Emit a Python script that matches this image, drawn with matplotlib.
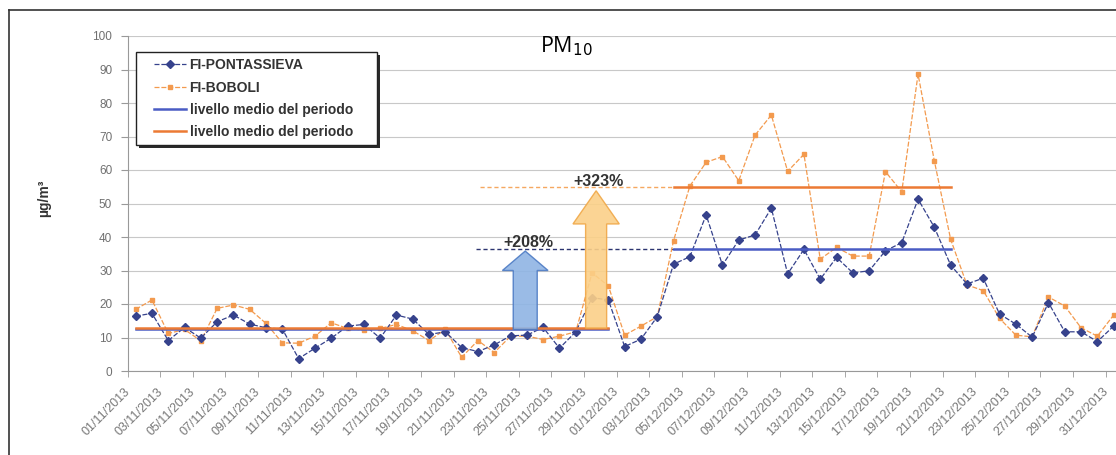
import matplotlib
matplotlib.use("Agg")
import matplotlib.pyplot as plt
from matplotlib.patches import FancyArrow, Rectangle
from matplotlib.lines import Line2D
import pandas as pd

plt.rcParams['font.family'] = ['Liberation Sans', 'DejaVu Sans']

dates = [d.strftime('%d/%m/%Y') for d in pd.date_range('2013-11-01', '2013-12-31')]

pontassieva = [16.4, 17.2, 9.1, 13.0, 9.8, 14.7, 16.7, 14.0, 12.9, 12.5,
               3.7, 6.8, 9.8, 13.4, 13.9, 9.8, 16.7, 15.5, 10.9, 11.7,
               7.0, 5.8, 7.8, 10.5, 10.7, 13.0, 6.8, 11.7, 21.9, 21.2,
               7.3, 9.5, 16.2, 31.9, 34.1, 46.6, 31.6, 39.1, 40.6, 48.6,
               29.0, 36.3, 27.4, 33.9, 29.3, 29.9, 35.9, 38.3, 51.3, 42.9,
               31.6, 26.0, 27.7, 17.0, 14.0, 10.1, 20.4, 11.7, 11.7, 8.8, 13.4]
boboli = [18.4, 21.2, 11.2, 12.4, 9.0, 18.7, 19.7, 18.4, 14.2, 8.4,
          8.3, 10.4, 14.4, 12.7, 12.2, 12.7, 13.9, 12.0, 9.1, 12.4,
          4.1, 9.1, 5.5, 10.4, 10.4, 9.4, 10.4, 11.7, 29.3, 25.4,
          10.7, 13.4, 16.2, 38.9, 55.2, 62.3, 64.0, 56.8, 70.4, 76.4,
          59.6, 64.7, 33.4, 36.9, 34.3, 34.3, 59.5, 53.5, 88.6, 62.7,
          39.3, 25.7, 24.0, 15.7, 10.7, 10.2, 22.1, 19.4, 12.9, 10.4, 16.7]

# mean levels: (first index, last index, value)
mean_pont = [(0, 29, 12.4), (33, 50, 36.3)]
mean_bob = [(0, 29, 12.8), (33, 50, 55.0)]

# annotation arrows: (center, base, tip, head base, body width, head width)
arrow_blue = (23.9, 12.4, 35.8, 30.0, 1.47, 2.8)
arrow_orange = (28.25, 12.8, 53.8, 43.9, 1.29, 2.84)
pct_labels = ['+208%', '+323%']

C_BLUE = '#36428c'
C_ORANGE = '#f39a4e'
C_BLUE_MEAN = '#4a5cc4'
C_ORANGE_MEAN = '#ec7a34'

W, H = 1116, 455
fig = plt.figure(figsize=(W / 100, H / 100), dpi=100)
ax = fig.add_axes([127.5 / W, (H - 371) / H, 61 * 16.3 / W, 335 / H])

x = list(range(len(dates)))
ax.plot(x, pontassieva, color=C_BLUE, lw=0.9, ls=(0, (4, 1.5)), marker='D', ms=4.2,
        mfc=C_BLUE, mec=C_BLUE, label='FI-PONTASSIEVA', zorder=4)
ax.plot(x, boboli, color=C_ORANGE, lw=0.9, ls=(0, (4, 1.5)), marker='s', ms=3,
        mfc=C_ORANGE, mec=C_ORANGE, label='FI-BOBOLI', zorder=3)

for k, (a, b, v) in enumerate(mean_pont):
    ax.plot([a, b], [v, v], color=C_BLUE_MEAN, lw=1.8, zorder=5,
            label='livello medio del periodo' if k == 0 else None)
for k, (a, b, v) in enumerate(mean_bob):
    ax.plot([a, b], [v, v], color=C_ORANGE_MEAN, lw=1.8, zorder=5,
            label='livello medio del periodo' if k == 0 else None)

# dashed reference lines
ax.plot([20.9, 33], [mean_pont[1][2], mean_pont[1][2]], color='#2c3470', lw=1.0,
        ls=(0, (3, 2)), zorder=2)
ax.plot([21.1, 33], [mean_bob[1][2], mean_bob[1][2]], color='#f5a860', lw=1.0,
        ls=(0, (3, 2)), zorder=2)

for (cx, base, tip, hb, bw, hw), fc, ec in [(arrow_blue, '#8fb4e4', '#4d7bc4'),
                                            (arrow_orange, '#fbd088', '#f0a848')]:
    ar = FancyArrow(cx, base, 0, tip - base, width=bw, head_width=hw,
                    head_length=tip - hb, length_includes_head=True,
                    facecolor=fc, edgecolor=ec, lw=1.0, alpha=0.9, zorder=6)
    ax.add_patch(ar)

ax.text(24.1, 38.3, pct_labels[0], ha='center', va='center', fontsize=11.5,
        fontweight='bold', color='#333333', zorder=7)
ax.text(28.4, 56.5, pct_labels[1], ha='center', va='center', fontsize=11.5,
        fontweight='bold', color='#333333', zorder=7)

ax.set_xlim(-0.5, len(dates) - 0.5)
ax.set_ylim(0, 100)
ax.set_yticks(range(0, 101, 10))
ax.yaxis.grid(True, color='#c8c8c8', lw=0.8)
ax.set_axisbelow(True)
# labels sit slightly left of their category, as in the Excel original
ax.set_xticks([i - 0.45 for i in x[::2]])
ax.set_xticklabels(dates[::2], rotation=45, ha='right', va='center',
                   rotation_mode='anchor', fontsize=9, color='#787878')
ax.set_xticks([i - 0.5 for i in range(0, len(dates) + 1, 2)], minor=True)
ax.tick_params(axis='x', which='major', length=0, pad=13.5)
ax.tick_params(axis='x', which='minor', length=4, color='#999999')
ax.tick_params(axis='y', length=5, color='#999999', labelsize=8.5,
               labelcolor='#707070', pad=6)
for s in ['top', 'right']:
    ax.spines[s].set_visible(False)
ax.spines['left'].set_color('#999999')
ax.spines['bottom'].set_color('#999999')

ax.set_ylabel('µg/m³', fontsize=10, fontweight='bold', color='#333333')
ax.yaxis.set_label_coords(-0.077, 0.515)

# legend box with shadow (drawn in figure pixels)
lx0, ly0, lx1, ly1 = 136, 52, 377, 145
fig.add_artist(Rectangle(((lx0 + 3) / W, 1 - (ly1 + 3) / H), (lx1 - lx0) / W,
                         (ly1 - ly0) / H, transform=fig.transFigure,
                         facecolor='#2a2a2a', edgecolor='none', zorder=8))
fig.add_artist(Rectangle((lx0 / W, 1 - ly1 / H), (lx1 - lx0) / W, (ly1 - ly0) / H,
                         transform=fig.transFigure, facecolor='white',
                         edgecolor='#222222', lw=1.0, zorder=9))
leg = ax.legend(loc='upper left', bbox_to_anchor=(150 / W, 1 - 54 / H),
                bbox_transform=fig.transFigure, frameon=False,
                prop={'size': 10, 'weight': 'bold'}, labelspacing=0.6,
                handlelength=2.3, handletextpad=0.25, borderpad=0.3,
                borderaxespad=0)
for t in leg.get_texts():
    t.set_color('#333333')
leg.set_zorder(10)
leg.remove()
fig.add_artist(leg)

fig.text(566 / W, 1 - 46 / H, 'PM$_{10}$', ha='center', va='center', fontsize=15.5,
         family=['Open Sans', 'DejaVu Sans'])

# scanned border
fig.add_artist(Line2D([9 / W, 9 / W], [0, 1 - 10 / H], transform=fig.transFigure,
                      color='#333333', lw=1.2))
fig.add_artist(Line2D([9 / W, 1], [1 - 10 / H, 1 - 10 / H], transform=fig.transFigure,
                      color='#333333', lw=1.2))

fig.savefig('out.png', dpi=100)
